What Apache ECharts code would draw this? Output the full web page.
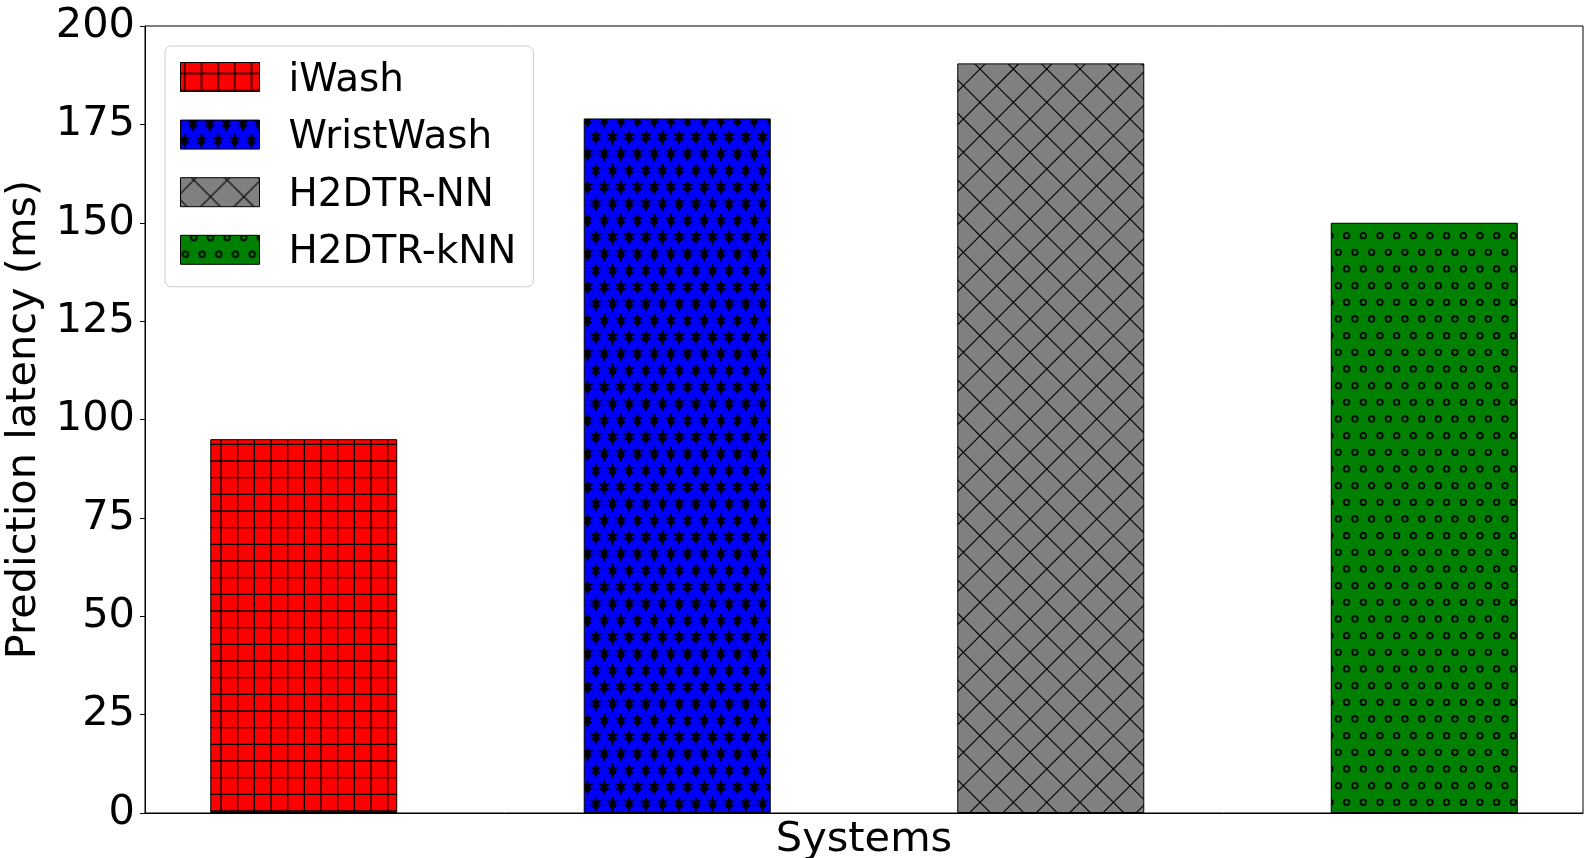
<!DOCTYPE html>
<html><head><meta charset="utf-8">
<script src="https://cdn.jsdelivr.net/npm/echarts@6/dist/echarts.min.js"></script>
<style>html,body{margin:0;padding:0;background:#fff}#c{width:1593px;height:858px}</style>
</head><body><div id="c"></div>
<script>
// ---- data ----
const systems = ['iWash', 'WristWash', 'H2DTR-NN', 'H2DTR-kNN'];
const latency = [95, 176.5, 190.5, 150];
const barColors = ['#ff0000', '#0000ff', '#808080', '#008000'];
const yMin = 0, yMax = 200, yStep = 25;
const xLabel = 'Systems';
const yLabel = 'Prediction latency (ms)';

// ---- hatch patterns (style only) ----
const P = 16.6667;
function tile(bg, draw) {
  const c = document.createElement('canvas');
  c.width = 100; c.height = 100;
  const g = c.getContext('2d');
  g.fillStyle = bg; g.fillRect(0, 0, 100, 100);
  draw(g);
  return c;
}
function gridHatch(bg) {
  return tile(bg, g => {
    g.strokeStyle = '#000'; g.lineWidth = 1.3;
    for (let k = -1; k <= 7; k++) {
      const x = 4.33 + k * P, y = 11 + k * P;
      g.beginPath(); g.moveTo(x, -5); g.lineTo(x, 105); g.stroke();
      g.beginPath(); g.moveTo(-5, y); g.lineTo(105, y); g.stroke();
    }
  });
}
function star(g, cx, cy, R, r) {
  g.beginPath();
  for (let i = 0; i < 10; i++) {
    const a = -Math.PI / 2 + i * Math.PI / 5;
    const rr = i % 2 === 0 ? R : r;
    const x = cx + rr * Math.cos(a), y = cy + rr * Math.sin(a);
    if (i === 0) g.moveTo(x, y); else g.lineTo(x, y);
  }
  g.closePath(); g.fill();
}
function starHatch(bg) {
  return tile(bg, g => {
    const pts = [];
    for (let j = -2; j <= 7; j++) {
      const y = 2.5 + j * P;
      const off = 12.5 + (((j % 2) + 2) % 2 ? 8.333 : 0);
      for (let i = -2; i <= 7; i++) pts.push([off + i * P, y]);
    }
    g.fillStyle = '#000';
    pts.forEach(([x, y]) => g.fillRect(x - 8.4, y + 2.2, 16.8, 7));
    g.fillStyle = bg;
    pts.forEach(([x, y]) => { g.beginPath(); g.arc(x + 8.333, y + 9.8, 8.0, 0, Math.PI * 2); g.fill(); });
    g.fillStyle = '#000';
    pts.forEach(([x, y]) => star(g, x, y, 6.4, 2.6));
  });
}
function crossHatch(bg) {
  return tile(bg, g => {
    g.strokeStyle = '#000'; g.lineWidth = 1.1;
    const D = 33.333;
    for (let k = -5; k <= 5; k++) {
      const b = 22.3 + k * D;
      g.beginPath(); g.moveTo(-10, -10 + b); g.lineTo(110, 110 + b); g.stroke();
    }
    for (let k = -2; k <= 8; k++) {
      const b = 15.7 + k * D;
      g.beginPath(); g.moveTo(-10, 10 + b); g.lineTo(110, -110 + b); g.stroke();
    }
  });
}
function circleHatch(bg) {
  return tile(bg, g => {
    g.strokeStyle = '#000'; g.lineWidth = 1.7;
    for (let j = -1; j <= 7; j++) {
      const y = 2.3 + j * P;
      const off = 13.3 - (((j % 2) + 2) % 2 ? 8.333 : 0);
      for (let i = -1; i <= 7; i++) {
        g.beginPath(); g.arc(off + i * P, y, 2.8, 0, Math.PI * 2); g.stroke();
      }
    }
  });
}
const makers = [gridHatch, starHatch, crossHatch, circleHatch];

const FONT = 'DejaVu Sans';
// legend patch: 79x29 rectangle, with an extra move point so it sits slightly above the text centre
const legendIcon = 'path://M0,0 L79,0 L79,29 L0,29 Z M0,36';
const chart = echarts.init(document.getElementById('c'), null, {renderer: 'canvas'});
chart.setOption({
  animation: false,
  backgroundColor: '#fff',
  textStyle: {fontFamily: FONT, color: '#000'},
  grid: {left: 145, right: 10, top: 26, bottom: 45, containLabel: false, outerBoundsMode: 'none',
         show: true, borderColor: '#000', borderWidth: 1, backgroundColor: 'transparent'},
  legend: {
    orient: 'vertical', left: 165, top: 46,
    padding: [15, 17, 14, 15],
    itemWidth: 79, itemHeight: 36, itemGap: 18.6,
    selectedMode: false,
    icon: legendIcon,
    backgroundColor: 'rgba(255,255,255,0.8)', borderColor: '#cccccc', borderWidth: 1, borderRadius: 6,
    itemStyle: {borderColor: '#000', borderWidth: 1},
    textStyle: {fontFamily: FONT, fontSize: 38.9, lineHeight: 39, color: '#000', padding: [0, 0, 0, 24]},
    data: systems
  },
  xAxis: {
    type: 'value', min: -0.425, max: 3.425,
    name: xLabel, nameLocation: 'middle', nameGap: 6,
    nameTextStyle: {fontFamily: FONT, fontSize: 41.5, color: '#000', verticalAlign: 'top'},
    axisLine: {show: true, onZero: false, lineStyle: {color: '#000', width: 1}},
    axisTick: {show: false}, axisLabel: {show: false}, splitLine: {show: false}
  },
  yAxis: {
    type: 'value', min: yMin, max: yMax, interval: yStep,
    name: yLabel, nameLocation: 'middle', nameGap: 85, nameRotate: 90,
    nameTextStyle: {fontFamily: FONT, fontSize: 41.5, color: '#000'},
    axisLine: {show: true, onZero: false, lineStyle: {color: '#000', width: 1}},
    axisTick: {show: true, inside: false, length: 5, lineStyle: {color: '#000', width: 1}},
    axisLabel: {fontFamily: FONT, fontSize: 41.5, color: '#000', margin: 10},
    splitLine: {show: false}
  },
  series: systems.map((name, i) => ({
    name: name,
    type: 'bar',
    barWidth: 187,
    barGap: '-100%',
    data: [[i, latency[i]]],
    itemStyle: {
      color: {image: makers[i](barColors[i]), repeat: 'repeat'},
      borderColor: '#000', borderWidth: 1
    },
    emphasis: {disabled: true}
  }))
});
</script>
</body></html>
